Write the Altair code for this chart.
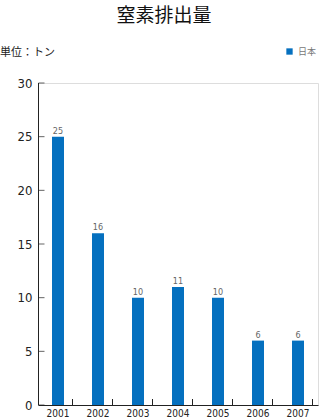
import altair as alt
import pandas as pd

years = ["2001", "2002", "2003", "2004", "2005", "2006", "2007"]
values = [25, 16, 10, 11, 10, 6, 6]
series = ["日本"] * len(years)
y_ticks = [0, 5, 10, 15, 20, 25, 30]
title_text = "窒素排出量"
unit_text = "単位：トン"

df = pd.DataFrame({"year": years, "value": values, "series": series})
ticks_df = pd.DataFrame({"t": y_ticks})

W, H = 280, 322
NARROW = "DejaVu Sans Condensed, Liberation Sans, sans-serif"
CJK = "Noto Sans CJK JP"
BLUE = "#0570bf"

xscale = alt.Scale(paddingInner=0.7, paddingOuter=0.35)
yscale = alt.Scale(domain=[0, 30], nice=False)

base = alt.Chart(df)

bars = base.mark_bar(color=BLUE).encode(
    x=alt.X("year:N", scale=xscale, sort=years,
            axis=alt.Axis(title=None, labelAngle=0, ticks=False, domainColor="#222",
                          labelFont=NARROW, labelFontSize=10, labelColor="#222",
                          labelPadding=3)),
    y=alt.Y("value:Q", scale=yscale,
            axis=alt.Axis(title=None, values=y_ticks, ticks=False, grid=False,
                          domain=False, labelFont=NARROW, labelFontSize=13,
                          labelColor="#222", labelPadding=6)),
    color=alt.Color("series:N", scale=alt.Scale(range=[BLUE]),
                    legend=alt.Legend(title=None, orient="none", legendX=247, legendY=-36,
                                      symbolType="square", symbolSize=40,
                                      symbolStrokeWidth=0, labelFont=CJK,
                                      labelFontSize=9, labelColor="#777")),
)

labels = base.mark_text(dy=-6, font=NARROW, fontSize=9, color="#666").encode(
    x=alt.X("year:N", scale=xscale, sort=years),
    y=alt.Y("value:Q", scale=yscale),
    text="value:Q",
)

xticks = base.mark_rule(color="#222").encode(
    x=alt.X("year:N", scale=xscale, sort=years),
    xOffset=alt.value(20.5),
    y=alt.value(H - 6),
    y2=alt.value(H),
)

yticks = alt.Chart(ticks_df).mark_tick(color="#222", thickness=1, size=6, orient="horizontal").encode(
    y=alt.Y("t:Q", scale=yscale),
    x=alt.value(3.5),
)

yline = base.mark_rule(color="#222", strokeWidth=1).encode(
    x=alt.value(0.5),
    y=alt.value(0),
    y2=alt.value(H),
)

title = alt.Chart(pd.DataFrame({"t": [title_text]})).mark_text(
    font=CJK, fontSize=19, color="#111", align="center", baseline="middle"
).encode(x=alt.value(126), y=alt.value(-67), text="t:N")

unit = alt.Chart(pd.DataFrame({"t": [unit_text]})).mark_text(
    font=CJK, fontSize=11, color="#222", align="left", baseline="middle"
).encode(x=alt.value(-38), y=alt.value(-30), text="t:N")

chart = alt.layer(bars, labels, xticks, yticks, yline, title, unit).properties(
    width=W, height=H,
    autosize=alt.AutoSizeParams(type="none"),
    padding={"left": 38, "top": 83, "right": 1, "bottom": 15},
).configure_view(stroke=None).configure(background="white")

chart.save("out.html", embed_options={"renderer": "svg", "actions": False})
